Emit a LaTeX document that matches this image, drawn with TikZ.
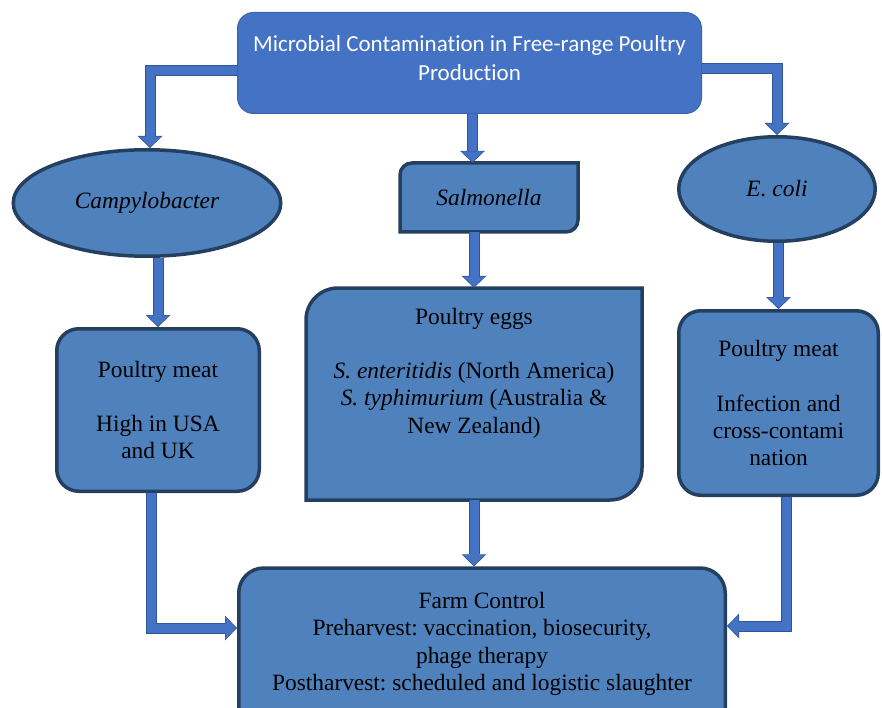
\documentclass[tikz,border=0pt]{standalone}
\usepackage{fontspec}
\setmainfont{Liberation Serif}
\newfontfamily\calibri[Ligatures=NoCommon]{Carlito}
\usetikzlibrary{shapes.geometric,arrows.meta,calc}
\definecolor{topfill}{HTML}{4472C4}
\definecolor{topline}{HTML}{3B64AD}
\definecolor{nodefill}{HTML}{4F81BD}
\definecolor{nodeline}{HTML}{243F60}
\definecolor{arrfill}{HTML}{4472C4}
\definecolor{arrline}{HTML}{2F5597}
\frenchspacing
\begin{document}
\begin{tikzpicture}[x=1pt,y=-1pt,
  txt/.style={inner sep=0pt, align=center, text=black, font=\fontsize{23.4}{27.3}\selectfont},
  box/.style={txt, draw=nodeline, line width=3.5pt, fill=nodefill, rounded corners=22pt},
  ell/.style={txt, ellipse, draw=nodeline, line width=3.5pt, fill=nodefill},
  topbox/.style={draw=topline, line width=1pt, fill=topfill, rounded corners=16pt, inner sep=0pt},
  toptxt/.style={inner sep=0pt, align=center, text=white, font=\calibri\fontsize{23}{29}\selectfont},
  shapeline/.style={draw=nodeline, line width=3.5pt, fill=nodefill, line join=miter},
  arr/.style={draw=arrfill, line width=9pt, shorten >=1.3pt,
    -{Triangle[width=22pt,length=10pt,line width=0pt]},
    preaction={draw=arrline, line width=11pt, shorten >=0pt,
      -{Triangle[width=25pt,length=12pt,line width=0pt]}}}
]
\useasboundingbox (0,0) rectangle (882,708);
\clip (0,0) rectangle (882,708);

% top box
\node[topbox, minimum width=464pt, minimum height=101pt] (top) at (469.5,63) {};
\node[toptxt] (toptext) at (469.5,58.5) {Microbial Contamination in Free-range Poultry\\Production};

% level 2
\node[ell, minimum width=267.5pt, minimum height=106.5pt] (camp) at (147,203) {\itshape Campylobacter};
\node[ell, minimum width=196.5pt, minimum height=104.5pt] (ecoli) at (777,189) {\itshape E. coli};
\draw[shapeline] (400,232) -- (400,175) arc[start angle=180,end angle=90,radius=12pt]
  -- (578,163) -- (578,220) arc[start angle=0,end angle=-90,radius=12pt] -- cycle;
\node[txt, minimum width=178pt, minimum height=69pt] (salm) at (489,197.5) {\itshape Salmonella};

% level 3
\node[box, minimum width=202.5pt, minimum height=162.5pt] (lmeat) at (158,410)
  {Poultry meat\\[27.3pt]High in USA\\and UK};
\node[box, minimum width=199.5pt, minimum height=184.5pt] (rmeat) at (778.5,403)
  {Poultry meat\\[27.3pt]Infection and\\cross-contami\\nation};
\draw[shapeline] (306,500) -- (306,320) arc[start angle=180,end angle=90,radius=32pt]
  -- (642,288) -- (642,468) arc[start angle=0,end angle=-90,radius=32pt] -- cycle;
\node[txt, minimum width=336pt, minimum height=212pt] (eggs) at (474,394) {};
\node[txt] (eggstext) at (474,373)
  {Poultry eggs\\[27.3pt]\textit{S. enteritidis} (North America)\\\textit{S. typhimurium} (Australia \&\\New Zealand)};

% farm control
\node[box, rounded corners=25pt, minimum width=486.5pt, minimum height=200pt, anchor=north] (farm) at (482,566.25) {};
\node[txt] (farmtext) at (482,644)
  {Farm Control\\Preharvest: vaccination, biosecurity,\\phage therapy\\Postharvest: scheduled and logistic slaughter};

% connectors
\coordinate (yl) at (0,71);
\coordinate (yr) at (0,69);
\coordinate (yfl) at (0,628);
\coordinate (yfr) at (0,626);
\draw[arr] (top.west |- yl) -| ([xshift=3pt]camp.north);
\draw[arr] (top.east |- yr) -| (ecoli.north);
\draw[arr] ([xshift=3pt]top.south) -- ([xshift=3pt]top.south |- salm.north);
\draw[arr] (lmeat.north |- camp.south) -- (lmeat.north);
\draw[arr] (eggs.north |- salm.south) -- (eggs.north);
\draw[arr] (rmeat.north |- ecoli.south) -- (rmeat.north);
\draw[arr] ([xshift=-7pt]lmeat.south) |- (farm.west |- yfl);
\draw[arr] ([xshift=8pt]rmeat.south) |- (farm.east |- yfr);
\draw[arr] (eggs.south) -- (eggs.south |- farm.north);
\end{tikzpicture}
\end{document}
